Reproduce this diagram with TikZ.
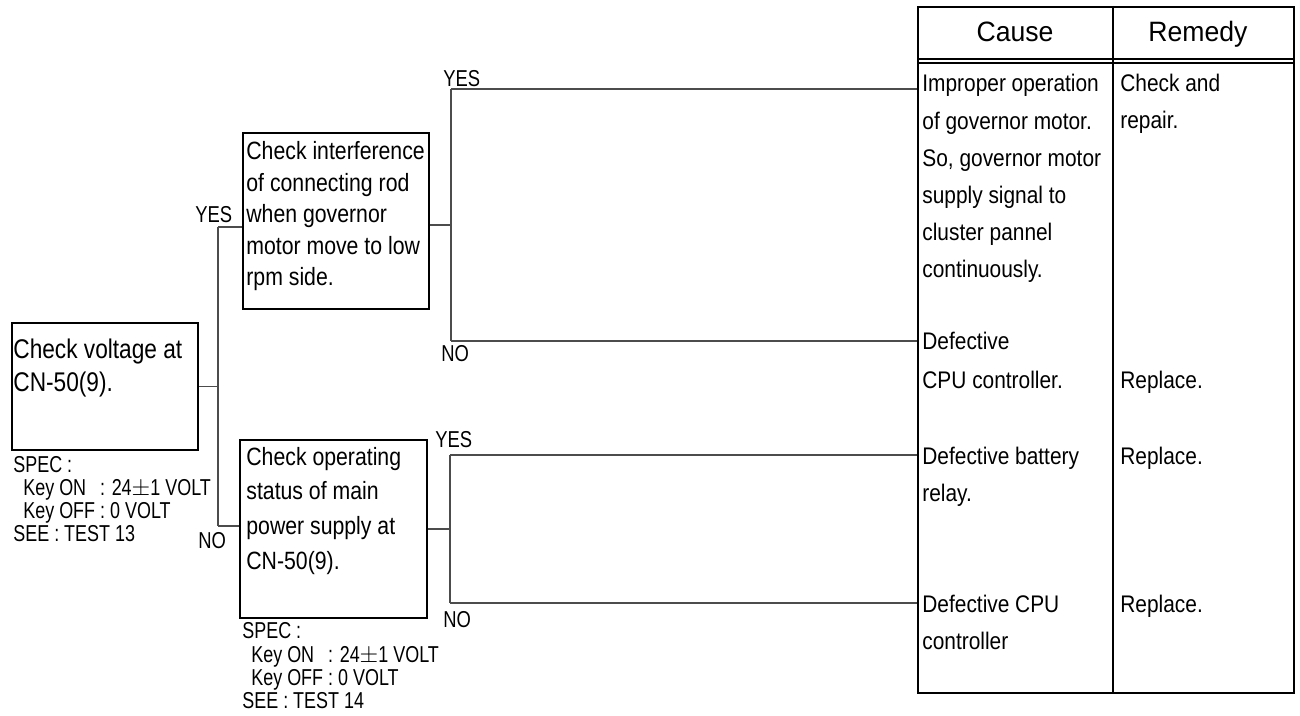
\documentclass[tikz,border=0pt]{standalone}
\usepackage{fontspec}
\setmainfont{Liberation Sans}
\newfontfamily\fA[FakeStretch=0.84]{Liberation Sans}
\newfontfamily\fB[FakeStretch=0.85]{Liberation Sans}
\newfontfamily\fC[FakeStretch=0.87]{Liberation Sans}
\newfontfamily\fH[FakeStretch=0.95]{Liberation Sans}
\newfontfamily\fS[FakeStretch=0.78]{Liberation Sans}
\newfontfamily\fL[FakeStretch=0.80]{Liberation Sans}
\newcommand\keyon{{\setbox0\hbox{Key OFF }\hbox to\wd0{Key ON\hfil}: 24$\pm$1 VOLT}}
\begin{document}
\begin{tikzpicture}[x=0.5pt,y=-0.5pt,
  box/.style={draw=black,line width=0.9pt,rectangle,inner sep=0pt,anchor=north west},
  conn/.style={draw=black!70,line width=0.7pt},
  tbl/.style={draw=black,line width=0.9pt},
  tx/.style={anchor=base west,inner sep=0pt},
  txA/.style={tx,font=\fA\fontsize{13.5pt}{16pt}\selectfont},
  txB/.style={tx,font=\fB\fontsize{12.5pt}{15pt}\selectfont},
  txC/.style={tx,font=\fC\fontsize{12pt}{14pt}\selectfont},
  txH/.style={anchor=base,inner sep=0pt,font=\fH\fontsize{14pt}{16pt}\selectfont},
  txS/.style={tx,font=\fS\fontsize{11.5pt}{13pt}\selectfont},
  txL/.style={tx,font=\fL\fontsize{11.5pt}{13pt}\selectfont}]
\useasboundingbox (0,0) rectangle (1300,716);

% boxes
\node[box,minimum width=93pt,minimum height=63.5pt] (b1) at (11,322) {};
\node[box,minimum width=93pt,minimum height=88pt] (b2) at (242,132) {};
\node[box,minimum width=93.5pt,minimum height=89pt] (b3) at (239,439) {};
\node[box,minimum width=188pt,minimum height=343pt] (tab) at (917,6) {};

% table rules
\coordinate (cd) at (1113,6);
\draw[tbl] (cd) -- (cd |- tab.south);
\coordinate (h1) at (917,59);
\coordinate (h2) at (917,63);
\draw[tbl] (h1) -- (h1 -| tab.east);
\draw[tbl,line width=0.6pt] (h2) -- (h2 -| tab.east);

% connectors
\coordinate (v1t) at (218,227);
\coordinate (v1b) at (218,526);
\draw[conn] (v1t) -- (v1b);
\draw[conn] (b1.east) -- (b1.east -| v1t);
\draw[conn] (v1t) -- (v1t -| b2.west);
\draw[conn] (v1b) -- (v1b -| b3.west);

\coordinate (v2t) at (451,89);
\coordinate (v2m) at (451,225);
\coordinate (v2b) at (451,341);
\draw[conn] (v2t) -- (v2b);
\draw[conn] (v2m -| b2.east) -- (v2m);
\draw[conn] (v2t) -- (v2t -| tab.west);
\draw[conn] (v2b) -- (v2b -| tab.west);

\coordinate (v3t) at (450,455);
\coordinate (v3b) at (450,603);
\draw[conn] (v3t) -- (v3b);
\draw[conn] (b3.east) -- (b3.east -| v3t);
\draw[conn] (v3t) -- (v3t -| tab.west);
\draw[conn] (v3b) -- (v3b -| tab.west);

% labels
\node[txL] (l1) at (195,223) {YES};
\node[txL] (l2) at (198,548) {NO};
\node[txL] (l3) at (443,87) {YES};
\node[txL] (l4) at (441,362) {NO};
\node[txL] (l5) at (435,447) {YES};
\node[txL] (l6) at (443,627) {NO};

% box texts
\node[txA] (a1) at (13,358) {Check voltage at};
\node[txA] (a2) at (13,392) {CN-50(9).};

\foreach \t [count=\i] in {Check interference,of connecting rod,when governor,motor move to low,rpm side.}
  \node[txB] (bt\i) at (246,{160+31.5*(\i-1)}) {\t};

\foreach \t [count=\i] in {Check operating,status of main,power supply at,CN-50(9).}
  \node[txB] (ct\i) at (246,{465+34.7*(\i-1)}) {\t};

% spec texts
\node[txS] (s1) at (13,472) {SPEC :};
\node[txS] (s2) at (23,495) {\keyon};
\node[txS] (s3) at (23,518) {Key OFF : 0 VOLT};
\node[txS] (s4) at (13,541) {SEE : TEST 13};

\node[txS] (r1) at (242,638) {SPEC :};
\node[txS] (r2) at (251,662) {\keyon};
\node[txS] (r3) at (251,685) {Key OFF : 0 VOLT};
\node[txS] (r4) at (242,708) {SEE : TEST 14};

% table header
\node[txH] (hc) at (1015,42) {Cause};
\node[txH] (hr) at (1198,42) {Remedy};

% cause texts
\foreach \t [count=\i] in {Improper operation,of governor motor.,{So, governor motor},supply signal to,cluster pannel,continuously.}
  \node[txC] (c\i) at (922,{92+37.2*(\i-1)}) {\t};
\node[txC] (c7) at (922,350) {Defective};
\node[txC] (c8) at (922,388) {CPU controller.};
\node[txC] (c9) at (922,464) {Defective battery};
\node[txC] (c10) at (922,501) {relay.};
\node[txC] (c11) at (922,612) {Defective CPU};
\node[txC] (c12) at (922,649) {controller};

% remedy texts
\node[txC] (m1) at (1120,92) {Check and};
\node[txC] (m2) at (1120,129) {repair.};
\node[txC] (m3) at (1120,388) {Replace.};
\node[txC] (m4) at (1120,464) {Replace.};
\node[txC] (m5) at (1120,612) {Replace.};
\end{tikzpicture}
\end{document}
